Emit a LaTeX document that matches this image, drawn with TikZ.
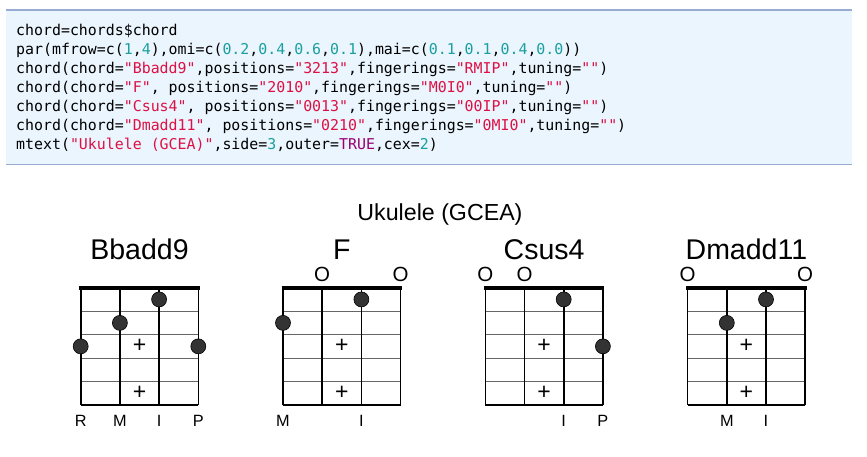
\documentclass[tikz,border=0pt]{standalone}
\usepackage{fontspec}
\setmainfont{Liberation Sans}
\setmonofont{DejaVu Sans Mono}
\usepackage{xcolor}
\usepackage{tikz}
\usetikzlibrary{positioning}
\definecolor{codebg}{HTML}{EAF5FE}
\definecolor{coderule}{HTML}{97ACD3}
\definecolor{codestr}{HTML}{DD1144}
\definecolor{codenum}{HTML}{1A9E9E}
\definecolor{codelit}{HTML}{990073}
\newcommand{\cstr}[1]{\textcolor{codestr}{#1}}
\newcommand{\cnum}[1]{\textcolor{codenum}{#1}}
\newcommand{\clit}[1]{\textcolor{codelit}{#1}}
\tikzstyle{codeline}=[anchor=base west, inner sep=0pt,
                  font=\ttfamily\fontsize{14.9}{18}\selectfont]
\tikzstyle{charttitle}=[anchor=base, inner sep=0pt, font=\fontsize{23.2}{25}\selectfont]
\tikzstyle{chordname}=[anchor=base, inner sep=0pt, font=\fontsize{28.5}{30}\selectfont]
\tikzstyle{openmark}=[anchor=base, inner sep=0pt, font=\fontsize{20.5}{22}\selectfont]
\tikzstyle{fingername}=[anchor=base, inner sep=0pt, font=\fontsize{16.3}{18}\selectfont]
\tikzstyle{pluscross}=[inner sep=0pt, font=\fontsize{23}{24}\selectfont]
\tikzstyle{fingerdot}=[draw=black, fill=black!80, circle, line width=0.6pt,
                  minimum size=15pt, inner sep=0pt]
\tikzstyle{fretline}=[draw=black!60, line width=1.1pt]
\tikzstyle{stringline}=[draw=black, line width=1.6pt]
\tikzstyle{nutline}=[draw=black, line width=4pt]

\begin{document}
\begin{tikzpicture}[x=1pt, y=-1pt]
      \useasboundingbox (0,0) rectangle (867,457);
      % Code block
      \fill[codebg] (6,10) rectangle (851.7,164.3);
      \draw[coderule, line width=1.3pt] (6,10) -- (851.7,10) (6,164.3) -- (851.7,164.3);
      \node[codeline] (code1) at (16,35.7) {chord=chords\$chord};
      \node[codeline] (code2) at (16,54.6) {par(mfrow=c(\cnum{1},\cnum{4}),omi=c(\cnum{0.2},\cnum{0.4},\cnum{0.6},\cnum{0.1}),mai=c(\cnum{0.1},\cnum{0.1},\cnum{0.4},\cnum{0.0}))};
      \node[codeline] (code3) at (16,73.5) {chord(chord=\cstr{"Bbadd9"},positions=\cstr{"3213"},fingerings=\cstr{"RMIP"},tuning=\cstr{""})};
      \node[codeline] (code4) at (16,92.4) {chord(chord=\cstr{"F"}, positions=\cstr{"2010"},fingerings=\cstr{"M0I0"},tuning=\cstr{""})};
      \node[codeline] (code5) at (16,111.3) {chord(chord=\cstr{"Csus4"}, positions=\cstr{"0013"},fingerings=\cstr{"00IP"},tuning=\cstr{""})};
      \node[codeline] (code6) at (16,130.2) {chord(chord=\cstr{"Dmadd11"}, positions=\cstr{"0210"},fingerings=\cstr{"0MI0"},tuning=\cstr{""})};
      \node[codeline] (code7) at (16,149.1) {mtext(\cstr{"Ukulele (GCEA)"},side=\cnum{3},outer=\clit{TRUE},cex=\cnum{2})};
      %
      % Outer title
      \node[charttitle] (title) at (440,220.7) {Ukulele (GCEA)};
      %
      % Place the chord charts
      \foreach \cx/\cname/\frets/\fings [count=\chartno] in
          {80.7/Bbadd9/{3,2,1,3}/{R,M,I,P}, 283/F/{2,0,1,0}/{M,0,I,0},
           485.3/Csus4/{0,0,1,3}/{0,0,I,P}, 687.6/Dmadd11/{0,2,1,0}/{0,M,I,0}}
      {
        \begin{scope}[shift={(\cx,287.7)}]
          \node[chordname] (name\chartno) at (58.8,-28.7) {\cname};
          \foreach \f in {1,...,4}
            \draw[fretline] (0,\f*23.46) -- (117.6,\f*23.46);
          \draw[stringline] (0,117.3) -- (117.6,117.3);
          \foreach \s in {0,...,3}
            \draw[stringline] (\s*39.2,0) -- (\s*39.2,117.3);
          \draw[nutline] (-1.5,0) -- (119,0);
          \node[pluscross] (plusa\chartno) at (58.8,58.65) {+};
          \node[pluscross] (plusb\chartno) at (58.8,105.57) {+};
          % open strings and fretted dots
          \foreach \f [count=\s from 0] in \frets {
            \ifnum\f=0
              \node[openmark] (open\chartno\s) at (\s*39.2,-6.2) {O};
            \else
              \node[fingerdot] (dot\chartno\s) at (\s*39.2,{(\f-0.5)*23.46}) {};
            \fi
          }
          % finger labels under the strings
          \foreach \g [count=\s from 0] in \fings {
            \if\g0\else
              \node[fingername] (finger\chartno\s) at (\s*39.2,139) {\g};
            \fi
          }
        \end{scope}
      }
    \end{tikzpicture}
\end{document}
